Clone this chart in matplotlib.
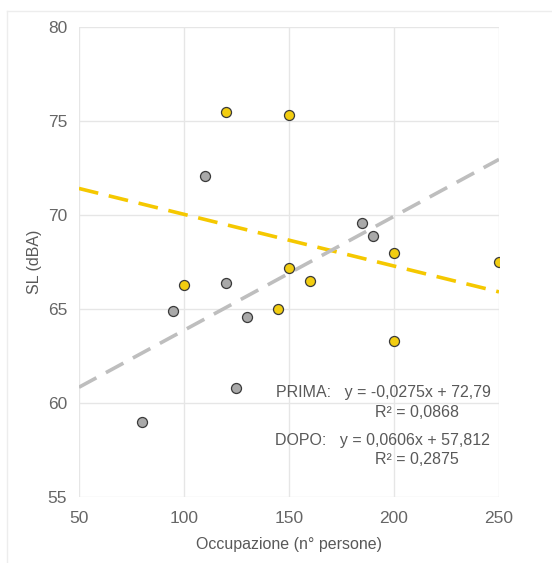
import matplotlib
matplotlib.use('Agg')
import matplotlib.pyplot as plt
import numpy as np
from matplotlib.lines import Line2D

plt.rcParams['font.family'] = ['Liberation Sans', 'DejaVu Sans']

# PRIMA (giallo)
prima_x = [120, 150, 100, 150, 160, 145, 200, 200, 250]
prima_y = [75.5, 75.3, 66.3, 67.2, 66.5, 65.0, 68.0, 63.3, 67.5]
# DOPO (grigio)
dopo_x = [110, 95, 120, 130, 125, 80, 185, 190]
dopo_y = [72.1, 64.9, 66.4, 64.6, 60.8, 59.0, 69.6, 68.9]

# rette di tendenza (coefficienti dalle equazioni)
prima_coef = (-0.0275, 72.79)
dopo_coef = (0.0606, 57.812)

x_ticks = [50, 100, 150, 200, 250]
y_ticks = [55, 60, 65, 70, 75, 80]

giallo = '#F2CD10'
grigio = '#A9A9A9'
testo = '#595959'

fig = plt.figure(figsize=(5.52, 5.63), dpi=100)
ax = fig.add_axes([0.143, 0.117, 0.761, 0.835])

xs = np.array([50, 250])
ax.plot(xs, prima_coef[0] * xs + prima_coef[1], color='#F5C800', lw=2.6,
        dashes=(5.5, 3), zorder=2)
ax.plot(xs, dopo_coef[0] * xs + dopo_coef[1], color='#BEBEBE', lw=2.6,
        dashes=(5.5, 3), zorder=2)

ax.scatter(dopo_x, dopo_y, s=52, color=grigio, edgecolors='#3A3A3A',
           linewidths=0.9, zorder=3)
ax.scatter(prima_x, prima_y, s=52, color=giallo, edgecolors='#3A3A3A',
           linewidths=0.9, zorder=3)

ax.set_xlim(50, 250)
ax.set_ylim(55, 80)
ax.set_xticks(x_ticks)
ax.set_yticks(y_ticks)
ax.grid(True, color='#E6E6E6', lw=1)
ax.set_axisbelow(True)
for s in ax.spines.values():
    s.set_visible(False)
ax.tick_params(length=0, labelsize=12.5, colors='#666666')
ax.tick_params(axis='y', pad=8.5)
ax.tick_params(axis='x', pad=10)
ax.set_xlabel('Occupazione (n° persone)', fontsize=11.5, color=testo, labelpad=8)
ax.set_ylabel('SL (dBA)', fontsize=11.5, color=testo, labelpad=4)

ax.text(0.981, 0.223, 'PRIMA:   y = -0,0275x + 72,79', transform=ax.transAxes,
        ha='right', va='center', fontsize=11.5, color=testo)
ax.text(0.905, 0.181, 'R² = 0,0868', transform=ax.transAxes,
        ha='right', va='center', fontsize=11.5, color=testo)
ax.text(0.979, 0.121, 'DOPO:   y = 0,0606x + 57,812', transform=ax.transAxes,
        ha='right', va='center', fontsize=11.5, color=testo)
ax.text(0.905, 0.081, 'R² = 0,2875', transform=ax.transAxes,
        ha='right', va='center', fontsize=11.5, color=testo)

# cornice leggera
fig.add_artist(Line2D([7 / 552, 7 / 552], [0, 1 - 11 / 563], color='#EDEDED', lw=1))
fig.add_artist(Line2D([7 / 552, 1], [1 - 11 / 563, 1 - 11 / 563], color='#EDEDED', lw=1))

fig.savefig('out.png', dpi=100)
